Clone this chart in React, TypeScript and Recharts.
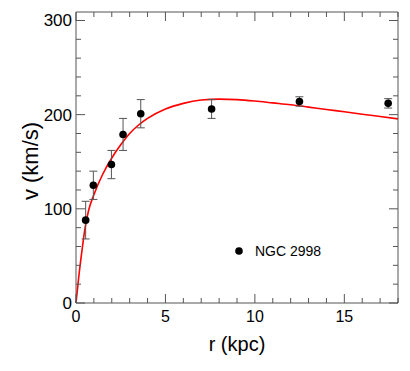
import { ComposedChart, Line, Scatter, ErrorBar, XAxis, YAxis } from 'recharts'

// measured rotation curve of NGC 2998
const pointR = [0.54, 0.97, 1.98, 2.63, 3.62, 7.58, 12.49, 17.45]
const pointV = [88, 125, 147, 179, 201, 206, 214, 212]
const pointErr = [20, 15, 15, 17, 15, 10, 5, 5]

// model curve (red)
const curveR = [0, 0.15, 0.35, 0.5, 0.7, 1, 1.5, 2, 2.5, 3, 3.5, 4, 5, 6, 7, 8, 9, 10, 11, 12, 13, 14, 15, 16, 17, 18]
const curveV = [0, 27, 58, 79, 98, 115, 137, 154, 168, 180, 189, 196, 206, 212, 215.5, 216.5, 216, 214.5, 212.5, 210.5, 208, 205.5, 203, 200.5, 198, 195.5]

const xTicks = [0, 1, 2, 3, 4, 5, 6, 7, 8, 9, 10, 11, 12, 13, 14, 15, 16, 17, 18]
const yTicks = [0, 20, 40, 60, 80, 100, 120, 140, 160, 180, 200, 220, 240, 260, 280, 300]

const points = pointR.map((r, i) => ({ r, v: pointV[i], err: pointErr[i] }))
const curve = curveR.map((r, i) => ({ r, v: curveV[i] }))

const FRAME = '#555'
const FONT = 'Liberation Sans, Arial, sans-serif'

const isMajorX = (v: number) => v % 5 === 0
const isMajorY = (v: number) => v % 100 === 0

const BottomTick = (props: any) => {
  const { x, y, payload } = props
  const major = isMajorX(payload.value)
  return (
    <g>
      <line x1={x} x2={x} y1={y} y2={y - (major ? 9 : 5)} stroke={FRAME} />
      {major && (
        <text x={x} y={y + 19} textAnchor="middle" fontSize={16} fill="#000" fontFamily={FONT}>
          {payload.value}
        </text>
      )}
    </g>
  )
}

const TopTick = (props: any) => {
  const { x, y, payload } = props
  const major = isMajorX(payload.value)
  return <line x1={x} x2={x} y1={y} y2={y + (major ? 9 : 5)} stroke={FRAME} />
}

const LeftTick = (props: any) => {
  const { x, y, payload } = props
  const major = isMajorY(payload.value)
  return (
    <g>
      <line x1={x} x2={x + (major ? 9 : 5)} y1={y} y2={y} stroke={FRAME} />
      {major && (
        <text x={x - 4} y={y + 6} textAnchor="end" fontSize={17} fill="#000" fontFamily={FONT}>
          {payload.value}
        </text>
      )}
    </g>
  )
}

const RightTick = (props: any) => {
  const { x, y, payload } = props
  const major = isMajorY(payload.value)
  return <line x1={x} x2={x - (major ? 9 : 5)} y1={y} y2={y} stroke={FRAME} />
}

const Dot = (props: any) => <circle cx={props.cx} cy={props.cy} r={3.8} fill="#000" />

export default function App() {
  return (
    <div style={{ position: 'absolute', left: 0, top: 0, width: 410, height: 371, background: '#fff' }}>
      <ComposedChart width={410} height={371} data={curve} margin={{ top: 11, right: 11, bottom: 0, left: 0 }}>
        <XAxis
          xAxisId="top"
          orientation="top"
          type="number"
          dataKey="r"
          domain={[0, 18]}
          ticks={xTicks}
          interval={0}
          height={1}
          tickSize={0}
          tickMargin={0}
          tickLine={false}
          tick={<TopTick />}
          stroke={FRAME}
        />
        <XAxis
          type="number"
          dataKey="r"
          domain={[0, 18]}
          ticks={xTicks}
          interval={0}
          height={68}
          tickSize={0}
          tickMargin={0}
          tickLine={false}
          tick={<BottomTick />}
          stroke={FRAME}
        />
        <YAxis
          type="number"
          domain={[0, 309]}
          ticks={yTicks}
          interval={0}
          width={76}
          tickSize={0}
          tickMargin={0}
          tickLine={false}
          tick={<LeftTick />}
          stroke={FRAME}
        />
        <YAxis
          yAxisId="right"
          orientation="right"
          type="number"
          domain={[0, 309]}
          ticks={yTicks}
          interval={0}
          width={1}
          tickSize={0}
          tickMargin={0}
          tickLine={false}
          tick={<RightTick />}
          stroke={FRAME}
        />
        <Line
          dataKey="v"
          type="monotone"
          stroke="#ff0000"
          strokeWidth={1.6}
          dot={false}
          isAnimationActive={false}
        />
        <Scatter
          data={points}
          dataKey="v"
          xAxisId="top"
          yAxisId="right"
          shape={<Dot />}
          isAnimationActive={false}
        >
          <ErrorBar dataKey="err" direction="y" width={4} stroke="#555" strokeWidth={1} />
        </Scatter>
      </ComposedChart>

      {/* axis titles */}
      <div
        style={{
          position: 'absolute',
          left: 76,
          width: 322,
          top: 334,
          textAlign: 'center',
          fontFamily: FONT,
          fontSize: 20,
          lineHeight: '20px',
        }}
      >
        r (kpc)
      </div>
      <div
        style={{
          position: 'absolute',
          left: 31,
          top: 161,
          transform: 'translate(-50%, -50%) rotate(-90deg)',
          whiteSpace: 'nowrap',
          fontFamily: FONT,
          fontSize: 22,
          lineHeight: '22px',
        }}
      >
        v (km/s)
      </div>

      <div
        style={{
          position: 'absolute',
          left: 233,
          top: 243,
          display: 'flex',
          alignItems: 'center',
          fontFamily: FONT,
          fontSize: 14,
        }}
      >
        <svg width={12} height={12} style={{ marginRight: 10 }}>
          <circle cx={6} cy={6} r={3.8} fill="#000" />
        </svg>
        <span>NGC 2998</span>
      </div>
    </div>
  )
}
